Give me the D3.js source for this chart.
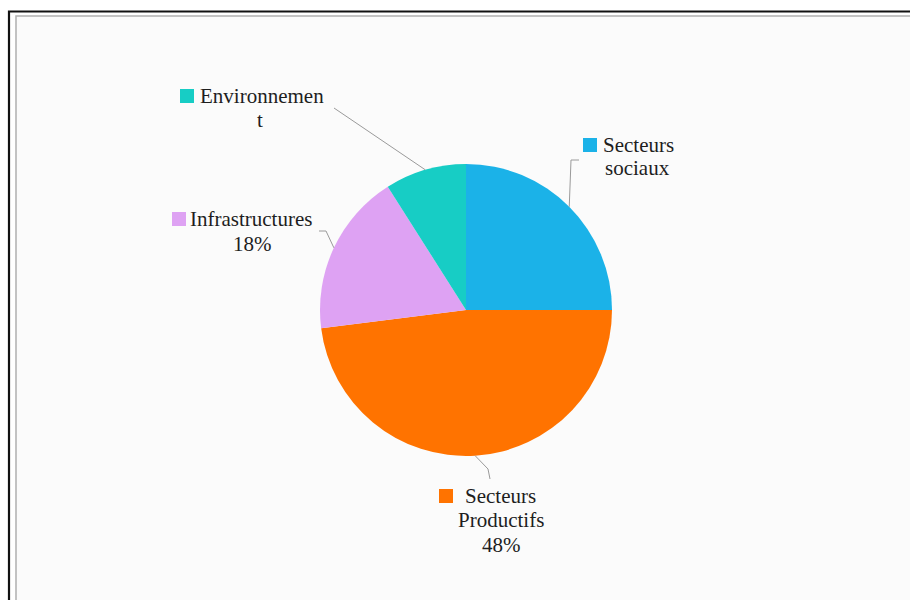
<!DOCTYPE html>
<html>
<head>
<meta charset="utf-8">
<script src="https://cdn.jsdelivr.net/npm/d3@7"></script>
<style>
  html, body { margin: 0; padding: 0; background: #ffffff; }
  svg { display: block; }
</style>
</head>
<body>
<svg id="chart" width="910" height="600"></svg>
<script>
// ---- Data ----
const categories = ["Secteurs sociaux", "Secteurs Productifs", "Infrastructures", "Environnement"];
const values = [25, 48, 18, 9];
const labelLines = [["Secteurs", "sociaux"], ["Secteurs", "Productifs"], ["Infrastructures"], ["Environnemen", "t"]];
const showPercent = [false, true, true, false];
const colors = ["#1bb2e8", "#ff7300", "#dea2f3", "#17cdc5"];

// ---- Layout (positions only) ----
const cx = 466, cy = 310, R = 146;
const labelLayout = [
  { key: [583, 138], lines: [[603, 152], [605, 175]], leader: [[571, 160], [579, 160]] },
  { key: [439, 489], lines: [[465, 503], [458, 527], [482, 552]], leader: [[488, 469], [490, 479]] },
  { key: [172, 212], lines: [[190, 226], [233, 251]], leader: [[326, 231], [319, 231]] },
  { key: [180, 89],  lines: [[200, 103], [257, 127]], leader: [[334, 108]] }
];

const svg = d3.select("#chart");

// frame
svg.append("rect").attr("x", 0).attr("y", 0).attr("width", 910).attr("height", 600).attr("fill", "#ffffff");
svg.append("rect").attr("x", 16).attr("y", 16).attr("width", 910).attr("height", 600).attr("fill", "#fbfbfb")
  .attr("stroke", "#b0b0b0").attr("stroke-width", 1.5);
svg.append("path").attr("d", "M9,600 L9,11.5 L910,11.5").attr("fill", "none").attr("stroke", "#111").attr("stroke-width", 2.2);

const pie = d3.pie().sort(null).value(d => d).startAngle(0).endAngle(2 * Math.PI);
const arcs = pie(values);
const arc = d3.arc().innerRadius(0).outerRadius(R);

const g = svg.append("g").attr("transform", `translate(${cx},${cy})`);
g.selectAll("path.slice").data(arcs).enter().append("path")
  .attr("class", "slice")
  .attr("d", arc)
  .attr("fill", (d, i) => colors[i]);

// leader lines
const edgeArc = d3.arc().innerRadius(R * 2).outerRadius(R * 0 + 0);
arcs.forEach((d, i) => {
  const mid = (d.startAngle + d.endAngle) / 2;
  const p0 = [cx + R * Math.sin(mid), cy - R * Math.cos(mid)];
  const pts = [p0].concat(labelLayout[i].leader);
  svg.append("path")
    .attr("d", d3.line()(pts))
    .attr("fill", "none")
    .attr("stroke", "#9a9a9a")
    .attr("stroke-width", 1);
});

// labels
const fmt = d3.format(".0f");
arcs.forEach((d, i) => {
  const L = labelLayout[i];
  svg.append("rect").attr("x", L.key[0]).attr("y", L.key[1]).attr("width", 14).attr("height", 14).attr("fill", colors[i]);
  const lines = labelLines[i].slice();
  if (showPercent[i]) lines.push(fmt(values[i]) + "%");
  lines.forEach((t, j) => {
    svg.append("text")
      .attr("x", L.lines[j][0])
      .attr("y", L.lines[j][1])
      .attr("font-family", "'Liberation Serif', 'Times New Roman', serif")
      .attr("font-size", 21)
      .attr("fill", "#1e1e1e")
      .text(t);
  });
});
</script>
</body>
</html>
